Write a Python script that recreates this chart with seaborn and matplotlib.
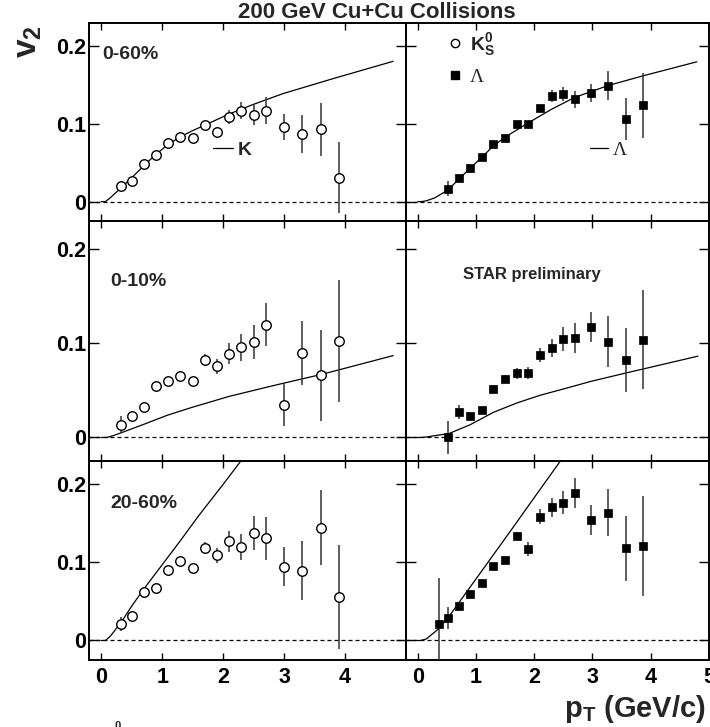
import matplotlib.pyplot as plt
import seaborn as sns
from matplotlib.lines import Line2D

# pT bin centres (GeV/c)
k_pt = [0.33, 0.5, 0.7, 0.9, 1.1, 1.3, 1.5, 1.7, 1.9, 2.1, 2.3, 2.5, 2.7, 3.0, 3.3, 3.6, 3.9]
lam_pt = [0.52, 0.71, 0.9, 1.1, 1.3, 1.5, 1.7, 1.9, 2.1, 2.3, 2.5, 2.7, 2.98, 3.27, 3.57, 3.87]
lam_pt_2060 = [0.36] + lam_pt

# K0s v2
k_v2_060 = [0.020, 0.026, 0.048, 0.060, 0.075, 0.083, 0.082, 0.098, 0.090, 0.109, 0.117,
            0.112, 0.117, 0.096, 0.087, 0.093, 0.031]
k_err_060 = [0.006, 0.004, 0.004, 0.004, 0.004, 0.004, 0.004, 0.004, 0.004, 0.0085, 0.011,
             0.013, 0.0175, 0.0165, 0.025, 0.034, 0.046]
k_v2_010 = [0.0135, 0.023, 0.032, 0.0544, 0.060, 0.0654, 0.0604, 0.0825, 0.0757, 0.0892,
            0.0956, 0.1017, 0.120, 0.0349, 0.090, 0.066, 0.1024]
k_err_010 = [0.009, 0.004, 0.004, 0.004, 0.004, 0.004, 0.004, 0.0065, 0.0078, 0.0107,
             0.0147, 0.018, 0.0227, 0.023, 0.034, 0.048, 0.065]
k_v2_2060 = [0.021, 0.0317, 0.0617, 0.0668, 0.090, 0.1024, 0.0934, 0.1187, 0.109, 0.1272,
             0.120, 0.1375, 0.1307, 0.0947, 0.0895, 0.1443, 0.056]
k_err_2060 = [0.0086, 0.004, 0.004, 0.004, 0.004, 0.004, 0.004, 0.0075, 0.0098, 0.0135,
              0.017, 0.022, 0.027, 0.0246, 0.038, 0.048, 0.067]

# Lambda v2
lam_v2_060 = [0.0167, 0.0304, 0.0437, 0.0578, 0.0737, 0.0822, 0.100, 0.100, 0.121, 0.136,
              0.138, 0.132, 0.140, 0.1495, 0.106, 0.124]
lam_err_060 = [0.010, 0.004, 0.004, 0.004, 0.004, 0.004, 0.004, 0.004, 0.004, 0.0077,
               0.009, 0.011, 0.012, 0.019, 0.027, 0.042]
lam_v2_010 = [0.0, 0.0267, 0.0224, 0.0288, 0.052, 0.0626, 0.0683, 0.0686, 0.0875, 0.0953,
              0.1045, 0.106, 0.117, 0.1017, 0.082, 0.104]
lam_err_010 = [0.0174, 0.0075, 0.004, 0.004, 0.004, 0.004, 0.006, 0.0068, 0.0075, 0.0098,
               0.0124, 0.016, 0.016, 0.027, 0.034, 0.053]
lam_v2_2060 = [0.0214, 0.0287, 0.0437, 0.060, 0.0737, 0.0955, 0.1037, 0.1337, 0.1174,
               0.1585, 0.1705, 0.1765, 0.189, 0.154, 0.1637, 0.118, 0.121]
lam_err_2060 = [0.059, 0.014, 0.006, 0.004, 0.004, 0.004, 0.004, 0.005, 0.0086, 0.0094,
                0.0118, 0.015, 0.019, 0.019, 0.030, 0.0416, 0.064]

# hydro curves
hk_x_060 = [0, 0.07, 0.15, 0.33, 0.53, 0.71, 0.90, 1.10, 1.30, 1.49, 1.70, 2.09, 2.49, 2.98, 3.81, 4.79]
hk_y_060 = [0, 0, 0.005, 0.018, 0.033, 0.047, 0.061, 0.0736, 0.0835, 0.091, 0.0985, 0.1125,
            0.125, 0.139, 0.1585, 0.1807]
hl_x_060 = [0, 0.06, 0.15, 0.30, 0.52, 0.71, 0.90, 1.10, 1.29, 1.50, 1.89, 2.30, 2.69, 3.27, 3.87, 4.79]
hl_y_060 = [0, 0, 0.001, 0.005, 0.015, 0.029, 0.043, 0.057, 0.071, 0.083, 0.101, 0.119,
            0.134, 0.1495, 0.162, 0.180]
hk_x_010 = [0, 0.09, 0.20, 0.33, 0.70, 1.08, 1.49, 2.09, 2.69, 2.98, 3.58, 3.88, 4.79]
hk_y_010 = [0, 0, 0.002, 0.005, 0.014, 0.0235, 0.032, 0.0435, 0.053, 0.0575, 0.0665, 0.0715, 0.087]
hl_x_010 = [0, 0.05, 0.15, 0.30, 0.53, 0.90, 1.30, 1.70, 2.10, 2.50, 2.98, 3.58, 3.88, 4.81]
hl_y_010 = [0, 0, 0.0005, 0.002, 0.004, 0.0135, 0.0267, 0.0366, 0.0448, 0.0515, 0.0597,
            0.0686, 0.0729, 0.0864]
hk_x_2060 = [0, 0.07, 0.15, 0.33, 0.5, 0.7, 1.0, 1.3, 1.6, 2.0, 2.31, 2.5]
hk_y_2060 = [0, 0, 0.0055, 0.0236, 0.044, 0.066, 0.097, 0.128, 0.160, 0.200, 0.232, 0.252]
hl_x_2060 = [0, 0.05, 0.15, 0.36, 0.53, 0.8, 1.2, 1.6, 2.0, 2.44, 2.6]
hl_y_2060 = [0, 0, 0.002, 0.015, 0.030, 0.058, 0.0995, 0.141, 0.183, 0.229, 0.246]

centralities = ["0-60%", "0-10%", "20-60%"]

sns.set_style("ticks")
plt.rcParams['font.family'] = ['Liberation Sans', 'DejaVu Sans']
plt.rcParams['font.weight'] = 'bold'
plt.rcParams['mathtext.fontset'] = 'custom'
plt.rcParams['mathtext.bf'] = 'Liberation Sans:bold'
plt.rcParams['mathtext.rm'] = 'Liberation Sans:bold'
plt.rcParams['mathtext.it'] = 'Liberation Sans:bold'

fig = plt.figure(figsize=(7.1, 7.27), dpi=100)
gs = fig.add_gridspec(3, 2, width_ratios=[317, 303], height_ratios=[198, 240, 199],
                      left=89/710, right=709/710, top=1-23/727, bottom=1-660/727,
                      wspace=0, hspace=0)

rows = [
    (k_pt, k_v2_060, k_err_060, hk_x_060, hk_y_060, lam_pt, lam_v2_060, lam_err_060, hl_x_060, hl_y_060),
    (k_pt, k_v2_010, k_err_010, hk_x_010, hk_y_010, lam_pt, lam_v2_010, lam_err_010, hl_x_010, hl_y_010),
    (k_pt, k_v2_2060, k_err_2060, hk_x_2060, hk_y_2060, lam_pt_2060, lam_v2_2060, lam_err_2060, hl_x_2060, hl_y_2060),
]

def draw(ax, x, y, err, cx, cy, marker):
    ax.axhline(0, color='black', lw=0.9, ls=(0, (3.2, 2.4)), zorder=1)
    sns.lineplot(x=cx, y=cy, ax=ax, color='black', lw=0.9, estimator=None, sort=False, zorder=2)
    ax.errorbar(x, y, yerr=err, fmt='none', ecolor='#333333', elinewidth=1.1, capsize=0, zorder=3)
    if marker == 'o':
        sns.scatterplot(x=x, y=y, ax=ax, marker='o', s=47, color='white',
                        edgecolor='black', linewidth=1.0, zorder=4)
    else:
        sns.scatterplot(x=x, y=y, ax=ax, marker='s', s=40, color='black',
                        edgecolor='black', linewidth=0.5, zorder=4)

axes = [[None, None] for _ in range(3)]
for r, row in enumerate(rows):
    for c in range(2):
        ax = fig.add_subplot(gs[r, c])
        axes[r][c] = ax
        if c == 0:
            draw(ax, row[0], row[1], row[2], row[3], row[4], 'o')
        else:
            draw(ax, row[5], row[6], row[7], row[8], row[9], 's')
        ax.set_xlim(-0.2, 5.0)
        ax.set_ylim(-0.025, 0.23)
        ax.set_yticks([0, 0.1, 0.2])
        ax.set_xticks([0, 1, 2, 3, 4] if c == 0 else [0, 1, 2, 3, 4, 5])
        ax.tick_params(axis='both', direction='in', top=True, right=True, width=1.0,
                       labelsize=15.5, colors='black')
        ax.tick_params(axis='x', length=5, pad=5)
        ax.tick_params(axis='y', length=7.5, pad=2)
        for s in ax.spines.values():
            s.set_linewidth(1.4)
            s.set_color('black')
        if c == 0:
            ax.set_yticklabels(['0', '0.1', '0.2'])
        else:
            ax.set_yticklabels([])
        if r < 2:
            ax.set_xticklabels([])
        ax.set_xlabel('')
        ax.set_ylabel('')

# centrality labels
axes[0][0].text(0.02, 0.189, centralities[0], fontsize=14, fontweight='bold', va='center')
axes[1][0].text(0.15, 0.166, centralities[1], fontsize=14, fontweight='bold', va='center')
axes[2][0].text(0.15, 0.176, centralities[2], fontsize=14, fontweight='bold', va='center')
axes[1][1].text(0.77, 0.173, "STAR preliminary", fontsize=12, fontweight='bold', va='center')

# curve legends
hk = Line2D([], [], color='black', lw=0.9)
leg_k = axes[0][0].legend([hk], ['K'], loc='center left', bbox_to_anchor=(0.391, 0.359),
                          frameon=False, fontsize=14, handlelength=1.05, handletextpad=0.25,
                          borderpad=0, borderaxespad=0)
leg_l = axes[0][1].legend([hk], ['Λ'], loc='center left', bbox_to_anchor=(0.607, 0.359),
                          frameon=False, fontsize=14, handlelength=0.95, handletextpad=0.25,
                          borderpad=0, borderaxespad=0)
leg_l.get_texts()[0].set_family('Liberation Serif')
leg_l.get_texts()[0].set_fontweight('normal')
axes[0][1].add_artist(leg_l)

# marker legend
hm_k = Line2D([], [], ls='none', marker='o', ms=6, mfc='white', mec='black', mew=1.0)
hm_l = Line2D([], [], ls='none', marker='s', ms=5.5, mfc='black', mec='black')
leg_m = axes[0][1].legend([hm_k, hm_l], [r'$\mathbf{K}^{\mathbf{0}}_{\mathbf{S}}$', 'Λ'],
                          loc='upper left', bbox_to_anchor=(0.135, 0.96), frameon=False,
                          fontsize=14, handlelength=0.8, handletextpad=0.4, labelspacing=0.55,
                          borderpad=0, borderaxespad=0)
leg_m.get_texts()[1].set_family('Liberation Serif')
leg_m.get_texts()[1].set_fontweight('normal')

fig.text(377/710, 1-18.5/727, "200 GeV Cu+Cu Collisions", ha='center', va='baseline',
         fontsize=16, fontweight='bold')
fig.text(28/710, 1-42/727, r'$\mathbf{v}_{\mathbf{2}}$', rotation=90, ha='center', va='center',
         fontsize=24)
fig.text(706/710, 1-717/727, r'$\mathbf{p}_{\mathbf{T}}$ (GeV/c)', ha='right', va='baseline',
         fontsize=21, fontweight='bold')
fig.text(118/710, -0.006, '0', ha='center', va='bottom', fontsize=8)

fig.savefig("out.png", dpi=100)
